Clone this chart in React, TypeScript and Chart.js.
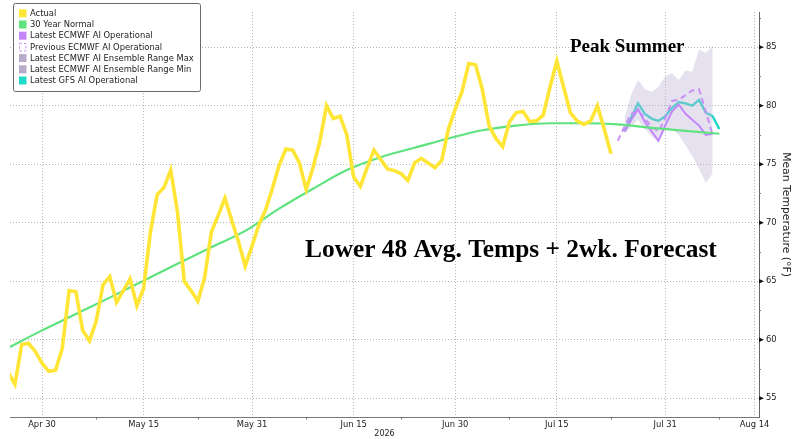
import { useEffect, useRef } from 'react';
import { Chart, registerables } from 'chart.js';

Chart.register(...registerables);

// Day offsets are counted from Apr 30, 2026 (day 0).
const actualStartDay = -5; // Apr 25
const actual = [
  57.2, 56.2, 59.6, 59.7, 59.0, 58.0, 57.3, 57.4, 59.3, 64.2,
  64.1, 60.8, 59.9, 61.6, 64.7, 65.4, 63.2, 64.2, 65.2, 62.9,
  64.4, 69.2, 72.4, 73.0, 74.5, 70.9, 65.0, 64.2, 63.3, 65.3,
  69.2, 70.6, 72.1, 70.2, 68.4, 66.3, 68.0, 69.8, 71.1, 72.9,
  74.9, 76.3, 76.2, 75.1, 72.85, 74.7, 76.9, 80.0, 78.9, 79.1,
  77.5, 73.9, 73.1, 74.7, 76.2, 75.4, 74.6, 74.45, 74.2, 73.6,
  75.1, 75.5, 75.1, 74.7, 75.3, 78.0, 79.7, 81.2, 83.6, 83.5,
  81.4, 78.3, 77.2, 76.5, 78.6, 79.4, 79.5, 78.65, 78.7, 79.2,
  81.6, 83.8, 81.6, 79.4, 78.7, 78.4, 78.7, 80.0, 78.0, 75.9,
];

const normalDays = [-5, 0, 5, 10, 15, 20, 25, 30, 35, 40, 45, 50, 55, 60, 65, 70, 75, 80, 85, 90, 95, 100];
const normalValues = [59.3, 60.8, 62.2, 63.6, 65.05, 66.5, 67.9, 69.3, 71.2, 72.9, 74.5, 75.6, 76.4, 77.2, 77.9, 78.3, 78.5, 78.5, 78.4, 78.1, 77.85, 77.6];

const prevEcmwfStartDay = 85;
const prevEcmwf = [77.0, 78.2, 79.3, 79.6, 78.9, 78.2, 77.8, 78.9, 80.4, 80.5, 80.9, 81.3, 81.4, 79.5, 77.5];

const latestStartDay = 86;
const latestEcmwf = [77.8, 78.8, 79.7, 78.6, 77.8, 77.0, 78.3, 79.5, 80.1, 79.3, 78.8, 78.3, 77.5, 77.6];
const ensembleMax = [79.0, 81.0, 82.2, 81.4, 81.2, 81.6, 82.5, 82.8, 82.2, 83.0, 82.9, 84.8, 84.5, 85.1];
const ensembleMin = [77.6, 78.2, 78.8, 78.0, 77.4, 76.9, 77.9, 78.0, 77.5, 76.6, 75.7, 74.6, 73.4, 74.2];
const gfs = [77.8, 79.0, 80.2, 79.3, 78.9, 78.7, 79.1, 79.8, 80.3, 80.2, 80.0, 80.5, 79.4, 79.1, 78.0];

const xTickDays = [0, 15, 31, 46, 61, 76, 92, 105.2];
const xTickLabels = ['Apr 30', 'May 15', 'May 31', 'Jun 15', 'Jun 30', 'Jul 15', 'Jul 31', 'Aug 14'];
const xMinorDays = [8, 23, 39, 53, 69, 84, 100];
const yTickValues = [55, 60, 65, 70, 75, 80, 85];
const yMinorValues = [57.5, 62.5, 67.5, 72.5, 77.5, 82.5, 87.5];

const seriesLabels = [
  'Actual',
  '30 Year Normal',
  'Latest ECMWF AI Operational',
  'Previous ECMWF AI Operational',
  'Latest ECMWF AI Ensemble Range Max',
  'Latest ECMWF AI Ensemble Range Min',
  'Latest GFS AI Operational',
];

const toPoints = (start: number, vals: number[]) => vals.map((v, i) => ({ x: start + i, y: v }));

const FONT = 'DejaVu Sans';

const decorPlugin = {
  id: 'decor',
  afterDraw(chart: any) {
    const { ctx, chartArea, scales } = chart;
    const xs = scales.x;
    const ys = scales.y;
    ctx.save();
    // y-axis arrow ticks
    ctx.fillStyle = '#111';
    for (const v of yTickValues) {
      const py = ys.getPixelForValue(v);
      ctx.beginPath();
      ctx.moveTo(chartArea.right, py - 2.2);
      ctx.lineTo(chartArea.right + 5, py);
      ctx.lineTo(chartArea.right, py + 2.2);
      ctx.closePath();
      ctx.fill();
    }
    ctx.strokeStyle = '#777';
    ctx.lineWidth = 1;
    for (const v of yMinorValues) {
      const py = Math.round(ys.getPixelForValue(v)) + 0.5;
      if (py < chartArea.top) continue;
      ctx.beginPath();
      ctx.moveTo(chartArea.right, py);
      ctx.lineTo(chartArea.right + 2, py);
      ctx.stroke();
    }
    for (const d of xMinorDays) {
      const px = Math.round(xs.getPixelForValue(d)) + 0.5;
      ctx.beginPath();
      ctx.moveTo(px, chartArea.bottom);
      ctx.lineTo(px, chartArea.bottom + 2.5);
      ctx.stroke();
    }

    // legend box
    const bx = chartArea.left + 3.5;
    const by = 3.5;
    const bw = 187;
    const bh = 88;
    ctx.fillStyle = '#fff';
    ctx.strokeStyle = '#6a6a6a';
    ctx.lineWidth = 1;
    ctx.beginPath();
    ctx.roundRect(bx, by, bw, bh, 2);
    ctx.fill();
    ctx.stroke();
    ctx.font = `8.4px "${FONT}"`;
    ctx.textBaseline = 'middle';
    ctx.textAlign = 'left';
    chart.data.datasets.forEach((ds: any, i: number) => {
      const cy = by + 9.8 + i * 11.2;
      const sx = bx + 5.5;
      if (ds.borderDash && ds.borderDash.length) {
        ctx.save();
        ctx.strokeStyle = ds.borderColor;
        ctx.lineWidth = 1;
        ctx.setLineDash([2.5, 2]);
        ctx.strokeRect(sx + 0.5, cy - 3.5, 6.5, 7.5);
        ctx.restore();
      } else {
        ctx.fillStyle = ds.legendColor || ds.borderColor;
        ctx.fillRect(sx, cy - 4, 7.5, 8);
      }
      ctx.fillStyle = '#222';
      ctx.fillText(ds.label, bx + 16.5, cy + 0.5);
    });

    // annotations
    ctx.fillStyle = '#000';
    ctx.textBaseline = 'alphabetic';
    ctx.font = 'bold 19px "Liberation Serif"';
    ctx.fillText('Peak Summer', 570, 51.7);
    ctx.font = 'bold 25.4px "Liberation Serif"';
    ctx.fillText('Lower 48 Avg. Temps + 2wk. Forecast', 305, 256.5);
    ctx.restore();
  },
};

export default function App() {
  const ref = useRef<HTMLCanvasElement | null>(null);

  useEffect(() => {
    if (!ref.current) return;
    const chart = new Chart(ref.current, {
      type: 'line',
      data: {
        datasets: [
          {
            label: seriesLabels[0],
            data: toPoints(actualStartDay, actual),
            borderColor: '#ffe535',
            borderWidth: 3.6,
            pointRadius: 0,
            tension: 0,
            fill: false,
          },
          {
            label: seriesLabels[1],
            data: normalDays.map((d, i) => ({ x: d, y: normalValues[i] })),
            borderColor: '#5ee37f',
            borderWidth: 2.2,
            pointRadius: 0,
            cubicInterpolationMode: 'monotone',
            fill: false,
          },
          {
            label: seriesLabels[2],
            data: toPoints(latestStartDay, latestEcmwf),
            borderColor: '#c387fb',
            borderWidth: 2,
            pointRadius: 0,
            tension: 0,
            fill: false,
          },
          {
            label: seriesLabels[3],
            data: toPoints(prevEcmwfStartDay, prevEcmwf),
            borderColor: '#c88ff7',
            borderWidth: 2,
            borderDash: [6, 4],
            pointRadius: 0,
            tension: 0,
            fill: false,
          },
          {
            label: seriesLabels[4],
            data: toPoints(latestStartDay, ensembleMax),
            borderColor: 'rgba(0,0,0,0)',
            legendColor: '#b8aac9',
            backgroundColor: 'rgba(190,180,214,0.4)',
            borderWidth: 0,
            pointRadius: 0,
            tension: 0,
            fill: '+1',
          } as any,
          {
            label: seriesLabels[5],
            data: toPoints(latestStartDay, ensembleMin),
            borderColor: 'rgba(0,0,0,0)',
            legendColor: '#b8aac9',
            borderWidth: 0,
            pointRadius: 0,
            tension: 0,
            fill: false,
          } as any,
          {
            label: seriesLabels[6],
            data: toPoints(latestStartDay, gfs),
            borderColor: '#1fd9c9',
            borderWidth: 2.4,
            pointRadius: 0,
            tension: 0,
            fill: false,
          },
        ],
      },
      options: {
        animation: false,
        responsive: false,
        layout: { padding: { left: 10, top: 0, right: 0, bottom: 0 } },
        plugins: { legend: { display: false }, tooltip: { enabled: false } },
        scales: {
          x: {
            type: 'linear',
            min: -4.73,
            max: 105.85,
            afterBuildTicks: (s: any) => {
              s.ticks = xTickDays.map((v) => ({ value: v }));
            },
            afterFit: (s: any) => {
              s.height = 22;
            },
            ticks: {
              autoSkip: false,
              maxRotation: 0,
              padding: 3,
              color: '#222',
              font: { family: FONT, size: 8.4 },
              callback: (v: any) => {
                const i = xTickDays.indexOf(Number(v));
                return i >= 0 ? xTickLabels[i] : '';
              },
            },
            grid: { color: '#b4b4b4', lineWidth: 1, drawTicks: false },
            border: { display: true, color: '#777', width: 1, dash: [1, 2] },
            title: {
              display: true,
              text: '2026',
              color: '#222',
              font: { family: FONT, size: 8 },
              padding: { top: 0, bottom: 0 },
            },
          },
          y: {
            type: 'linear',
            position: 'right',
            min: 53.4,
            max: 88,
            afterBuildTicks: (s: any) => {
              s.ticks = yTickValues.map((v) => ({ value: v }));
            },
            afterFit: (s: any) => {
              s.width = 41;
            },
            ticks: {
              padding: 7,
              color: '#222',
              font: { family: FONT, size: 8.4 },
            },
            grid: { color: '#b4b4b4', lineWidth: 1, drawTicks: false },
            border: { display: true, color: '#666', width: 1, dash: [1, 2] },
            title: {
              display: true,
              text: 'Mean Temperature (°F)',
              color: '#222',
              font: { family: FONT, size: 10.8 },
              padding: { top: 8, bottom: 0 },
            },
          },
        },
      } as any,
      plugins: [decorPlugin],
    });
    return () => chart.destroy();
  }, []);

  return (
    <div style={{ position: 'fixed', left: 0, top: 0, width: 800, height: 439, background: '#fff' }}>
      <canvas ref={ref} width={800} height={439} />
    </div>
  );
}
